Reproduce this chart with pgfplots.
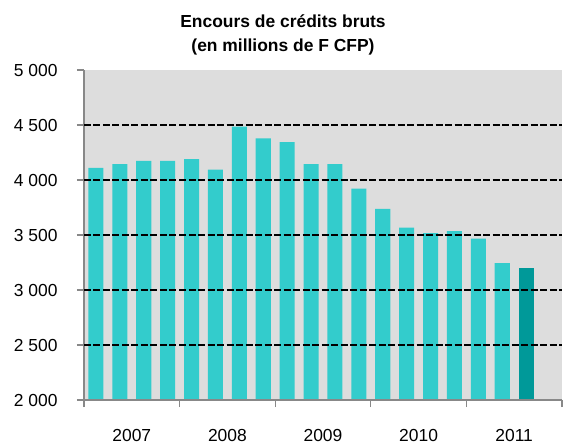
\documentclass[border=0pt]{standalone}
\usepackage{fontspec}
\setmainfont{Liberation Sans}
\usepackage{pgfplots}
\pgfplotsset{compat=1.18}
\definecolor{barcyan}{HTML}{33CCCC}
\definecolor{bardark}{HTML}{009999}
\definecolor{plotbg}{HTML}{DDDDDD}
\definecolor{axisgray}{HTML}{888888}
\begin{document}
\begin{tikzpicture}[x=1bp,y=1bp]
\begin{axis}[
    at={(0,0)}, anchor=south west,
    width=478bp, height=330bp, scale only axis,
    ybar, bar width=0.63, bar shift=0pt,
    xmin=-0.5, xmax=19.5, ymin=2000, ymax=5000,
    axis background/.style={fill=plotbg},
    axis on top,
    axis x line*=bottom, axis y line*=left,
    axis line style={axisgray, line width=1.5bp},
    xtick={-0.5,3.5,7.5,11.5,15.5,19.5},
    xticklabels={2007,2008,2009,2010,2011},
    x tick label as interval,
    ytick={2000,2500,3000,3500,4000,4500,5000},
    yticklabels={2 000,2 500,3 000,3 500,4 000,4 500,5 000},
    tick align=outside, major tick length=7bp,
    tick style={axisgray, line width=1.2bp},
    extra y ticks={2500,3000,3500,4000,4500},
    extra y tick labels={},
    extra y tick style={grid=major, major tick length=0pt},
    grid style={black, line width=1.3bp, dash pattern=on 7bp off 2.5bp},
    ticklabel style={font=\fontsize{17.5}{20}\selectfont},
    yticklabel style={anchor=east, xshift=-16bp},
    xticklabel style={anchor=north, yshift=-19bp},
]
% encours trimestriel, 2007T1 -- 2011T2
\addplot[fill=barcyan, draw=none] coordinates {
(0,4110) (1,4145) (2,4175) (3,4175)
(4,4190) (5,4095) (6,4485) (7,4378)
(8,4345) (9,4145) (10,4145) (11,3922)
(12,3738) (13,3568) (14,3517) (15,3535)
(16,3468) (17,3245)
};
% dernier trimestre connu
\addplot[fill=bardark, draw=none] coordinates {(18,3202)};
\end{axis}
\node[font=\bfseries\fontsize{17.5}{20}\selectfont, anchor=base] at (199bp,372bp) {Encours de crédits bruts};
\node[font=\bfseries\fontsize{17.5}{20}\selectfont, anchor=base] at (199bp,348bp) {(en millions de F CFP)};
\pgfresetboundingbox
\path (-84bp,-45bp) rectangle (480bp,400bp);
\end{tikzpicture}
\end{document}
